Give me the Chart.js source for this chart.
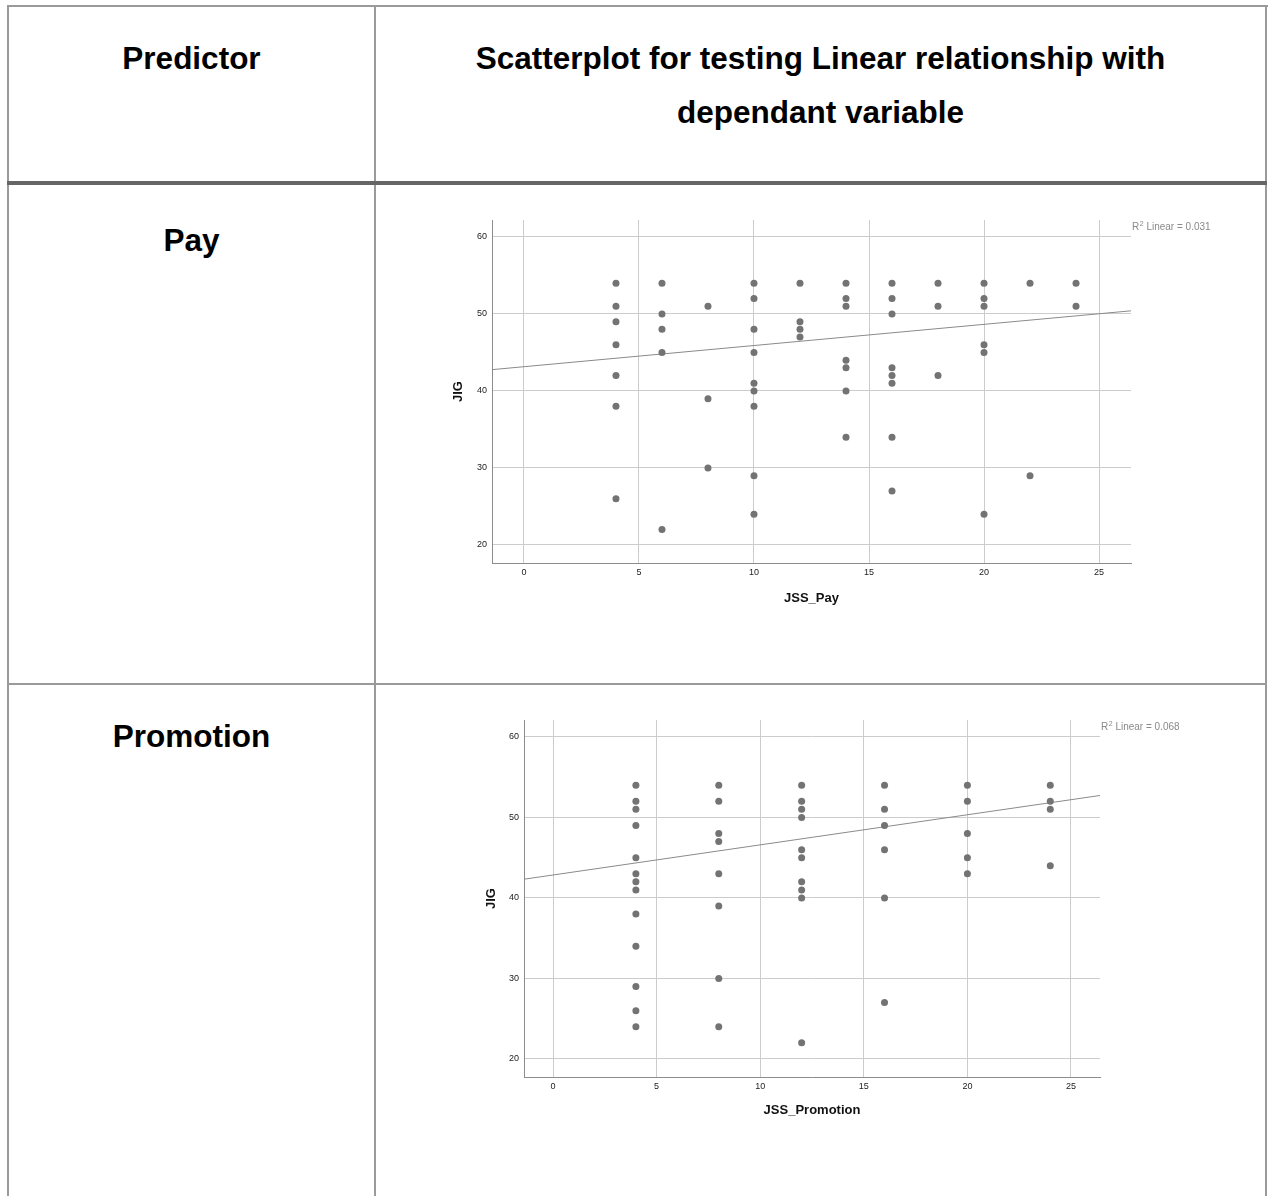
<!DOCTYPE html>
<html>
<head>
<meta charset="utf-8">
<script src="https://cdn.jsdelivr.net/npm/chart.js@4.4.0/dist/chart.umd.min.js"></script>
<style>
body{margin:0;background:#fff;width:1269px;height:1196px;position:relative;overflow:hidden;font-family:"Liberation Sans",Arial,sans-serif;}
.ln{position:absolute;background:#9a9a9a;}
.txt{position:absolute;font-weight:bold;font-size:31.5px;line-height:32px;color:#000;text-align:center;white-space:nowrap;}
.box{position:absolute;}
</style>
</head>
<body>
<!-- table lines -->
<div class="ln" style="left:7px;top:5px;width:1261px;height:2px"></div>
<div class="ln" style="left:7px;top:5px;width:2px;height:1191px"></div>
<div class="ln" style="left:1265px;top:5px;width:2px;height:1191px"></div>
<div class="ln" style="left:374px;top:5px;width:2px;height:1191px"></div>
<div class="ln" style="left:7px;top:181px;width:1260px;height:4px;background:#666"></div>
<div class="ln" style="left:7px;top:683px;width:1260px;height:2px"></div>

<div class="txt" style="left:9px;width:365px;top:42px">Predictor</div>
<div class="txt" style="left:376px;width:889px;top:42px">Scatterplot for testing Linear relationship with</div>
<div class="txt" style="left:376px;width:889px;top:96px">dependant variable</div>
<div class="txt" style="left:9px;width:365px;top:224px">Pay</div>
<div class="txt" style="left:9px;width:365px;top:720px">Promotion</div>

<div class="box" style="left:440px;top:205px;width:800px;height:420px"><canvas id="cPay"></canvas></div>
<div class="box" style="left:472px;top:705px;width:760px;height:434px"><canvas id="cPromo"></canvas></div>

<script>
// JSS_Pay values and the JIG scores at each of them
var payX = [4, 6, 8, 10, 12, 14, 16, 18, 20, 22, 24];
var payY = [
	[54, 51, 49, 46, 42, 38, 26],
	[54, 50, 48, 45, 22],
	[51, 39, 30],
	[54, 52, 48, 45, 41, 40, 38, 29, 24],
	[54, 49, 48, 47],
	[54, 52, 51, 44, 43, 40, 34],
	[54, 52, 50, 43, 42, 41, 34, 27],
	[54, 51, 42],
	[54, 52, 51, 46, 45, 24],
	[54, 29],
	[54, 51]
];
var payFit = [43.15, 0.275]; // intercept, slope
var payR2 = "0.031";

// JSS_Promotion values and the JIG scores
var promoX = [4, 8, 12, 16, 20, 24];
var promoY = [
	[54, 52, 51, 49, 45, 43, 42, 41, 38, 34, 29, 26, 24],
	[54, 52, 48, 47, 43, 39, 30, 24],
	[54, 52, 51, 50, 46, 45, 42, 41, 40, 22],
	[54, 51, 49, 46, 40, 27],
	[54, 52, 48, 45, 43],
	[54, 52, 51, 44]
];
var promoFit = [42.85, 0.374];
var promoR2 = "0.068";

var xTicks = [0, 5, 10, 15, 20, 25];
var yTicks = [20, 30, 40, 50, 60];

Chart.defaults.font.family = '"Liberation Sans", Arial, sans-serif';

var r2Plugin = {
	id: 'r2',
	afterDraw: function(chart, args, opts){
		var ctx = chart.ctx, a = chart.chartArea;
		var x = a.right + 1, y = a.top + 7;
		ctx.save();
		ctx.fillStyle = '#8a8a8a';
		ctx.textBaseline = 'middle';
		ctx.font = '10px "Liberation Sans", Arial';
		ctx.fillText('R', x, y);
		x += ctx.measureText('R').width + 0.5;
		ctx.font = '7px "Liberation Sans", Arial';
		ctx.fillText('2', x, y - 3);
		x += ctx.measureText('2').width;
		ctx.font = '10px "Liberation Sans", Arial';
		ctx.fillText(' Linear = ' + opts.text, x, y);
		ctx.restore();
	}
};

function makeChart(id, xs, ys, fit, r2, xTitle, xr, yr, pads){
	var pts = [];
	for (var i in xs){
		for (var j in ys[i]){
			pts.push({x: xs[i], y: ys[i][j]});
		}
	}
	var line = [
		{x: xr[0], y: fit[0] + fit[1] * xr[0]},
		{x: xr[1], y: fit[0] + fit[1] * xr[1]}
	];
	var ctx = document.getElementById(id).getContext('2d');
	return new Chart(ctx, {
		type: 'scatter',
		data: {
			datasets: [
				{
					data: pts,
					backgroundColor: '#737373',
					borderWidth: 0,
					pointRadius: 3.5,
					pointHoverRadius: 3.5
				},
				{
					type: 'line',
					data: line,
					borderColor: '#8a8a8a',
					borderWidth: 1,
					pointRadius: 0,
					fill: false
				}
			]
		},
		options: {
			responsive: true,
			maintainAspectRatio: false,
			animation: false,
			layout: {padding: {top: 15, right: pads.right, left: 0, bottom: 0}},
			plugins: {legend: {display: false}, tooltip: {enabled: false}, r2: {text: r2}},
			scales: {
				x: {
					type: 'linear',
					min: xr[0], max: xr[1],
					afterBuildTicks: function(s){ s.ticks = xTicks.map(function(v){ return {value: v}; }); },
					afterFit: function(s){ s.height = 62; },
					grid: {color: '#cccccc', drawTicks: false},
					border: {color: '#8c8c8c', width: 1},
					ticks: {font: {size: 9}, color: '#222', padding: 4},
					title: {display: true, text: xTitle, color: '#111', font: {size: 13, weight: 'bold'}, padding: {top: 0, bottom: pads.xt}}
				},
				y: {
					min: yr[0], max: yr[1],
					afterBuildTicks: function(s){ s.ticks = yTicks.map(function(v){ return {value: v}; }); },
					afterFit: function(s){ s.width = 52; },
					grid: {color: '#cccccc', drawTicks: false},
					border: {color: '#8c8c8c', width: 1},
					ticks: {font: {size: 9}, color: '#222', padding: 5},
					title: {display: true, text: 'JIG', color: '#111', font: {size: 13, weight: 'bold'}, padding: {top: pads.yt, bottom: 0}}
				}
			}
		},
		plugins: [r2Plugin]
	});
}

makeChart('cPay', payX, payY, payFit, payR2, 'JSS_Pay', [-1.39, 26.39], [17.66, 62.2], {right: 109, xt: 19, yt: 11});
makeChart('cPromo', promoX, promoY, promoFit, promoR2, 'JSS_Promotion', [-1.4, 26.4], [17.76, 62.1], {right: 132, xt: 21, yt: 12});
</script>
</body>
</html>
